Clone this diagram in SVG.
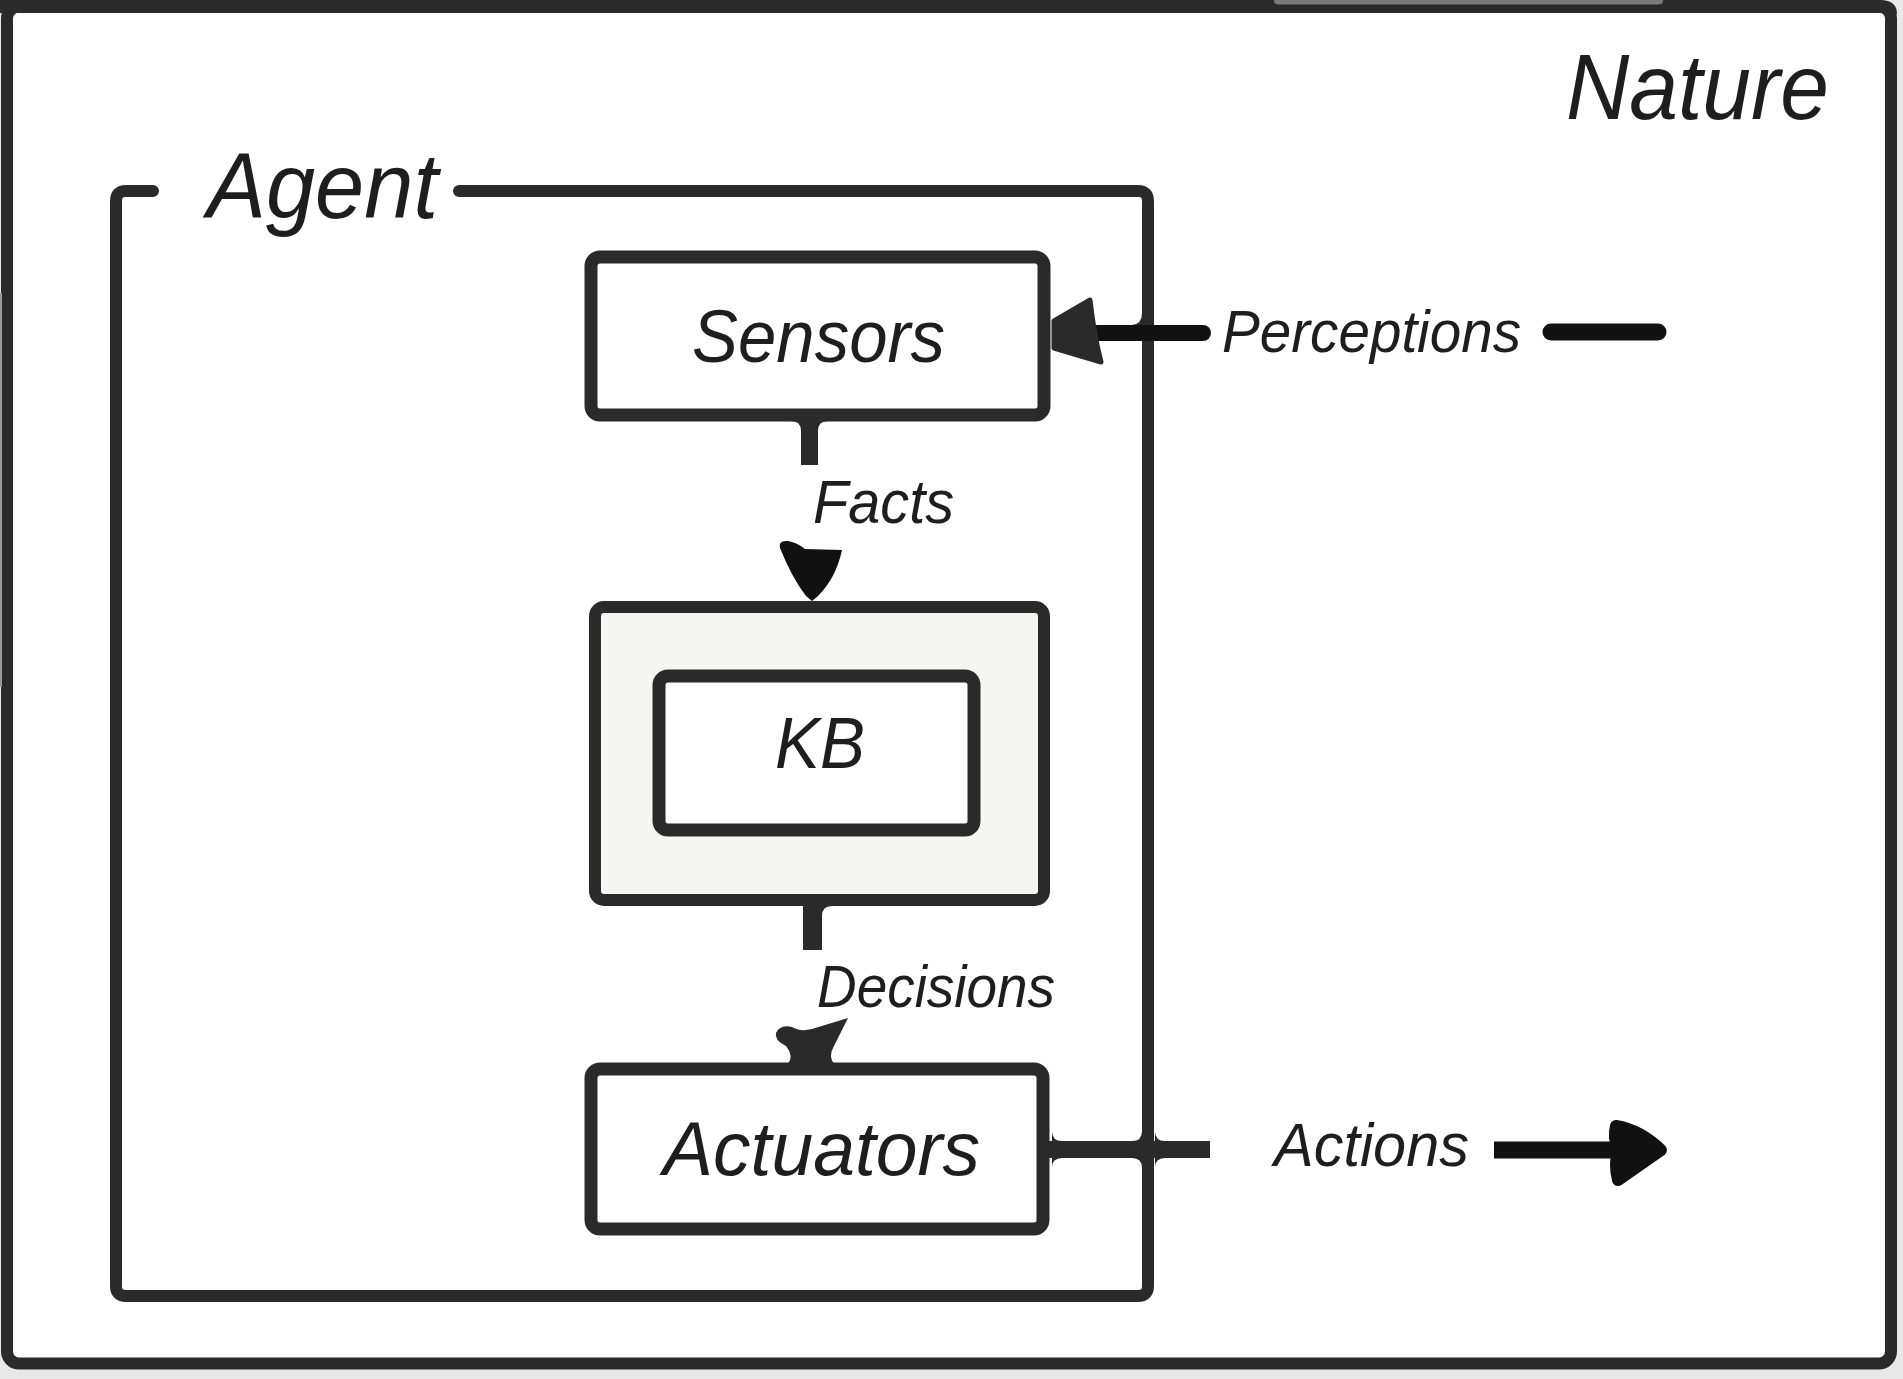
<svg xmlns="http://www.w3.org/2000/svg" width="1903" height="1379" viewBox="0 0 1903 1379">
  <style>
    .frame { fill: none; stroke: #2a2a2a; stroke-width: 12; stroke-linejoin: round; }
    .box { fill: #ffffff; stroke: #2a2a2a; stroke-width: 13; stroke-linejoin: round; }
    .kbouter { fill: #f5f5f3; stroke: #2a2a2a; stroke-width: 12; stroke-linejoin: round; }
    .lbl { font-family: "Liberation Sans", "DejaVu Sans", sans-serif; font-style: italic; fill: #1e1e1e; }
    .fil { fill: #2a2a2a; }
    .blk { fill: #111111; }
  </style>
  <rect x="0" y="0" width="1903" height="1379" fill="#e8e8e8"/>

  <g id="nature">
    <rect x="7" y="6.5" width="1884" height="1357" rx="12" fill="#ffffff" stroke="#2a2a2a" stroke-width="12"/>
    <path d="M0 0 L1880 0 Q1897 0 1897 14 L1885 14 Q1885 13 1880 13 L0 13 Z" fill="#2a2a2a"/>
    <path d="M1274 0 L1663 0 L1663 1 Q1663 4.5 1658 4.5 L1279 4.5 Q1274 4.5 1274 1 Z" fill="#7a7a7a"/>
    <rect x="0" y="293" width="2" height="394" fill="#9a9a9a"/>
    <text class="lbl" x="1566" y="119" font-size="92" textLength="263" lengthAdjust="spacingAndGlyphs">Nature</text>
  </g>

  <g id="agent">
    <path class="frame" stroke-linecap="round" d="M153 191 L126 191 Q116 191 116 201 L116 1286 Q116 1296 126 1296 L1138 1296 Q1148 1296 1148 1286 L1148 201 Q1148 191 1138 191 L459 191"/>
    <text class="lbl" x="207" y="218" font-size="92" textLength="231" lengthAdjust="spacingAndGlyphs">Agent</text>
  </g>

  <g id="sensors">
    <rect class="box" x="591" y="257" width="453" height="158" rx="9"/>
    <text class="lbl" x="692" y="362" font-size="74" textLength="253" lengthAdjust="spacingAndGlyphs">Sensors</text>
  </g>

  <g id="kb-container">
    <rect class="kbouter" x="595" y="607" width="449" height="293" rx="9"/>
  </g>

  <g id="kb">
    <rect class="box" x="659" y="676" width="315" height="154" rx="9"/>
    <text class="lbl" x="775" y="768" font-size="73" textLength="90" lengthAdjust="spacingAndGlyphs">KB</text>
  </g>

  <g id="actuators">
    <rect class="box" x="591" y="1069" width="452" height="160" rx="9"/>
    <text class="lbl" x="663" y="1175" font-size="76" textLength="317" lengthAdjust="spacingAndGlyphs">Actuators</text>
  </g>

  <g id="connectors">
    <!-- Facts: Sensors -> KB -->
    <rect class="fil" x="801" y="420" width="17" height="45"/>
    <path class="fil" d="M801 431 Q801 421 791 421 L801 421 Z"/>
    <path class="fil" d="M818 431 Q818 421 828 421 L818 421 Z"/>
    <path class="blk" d="M780 548 Q778 540 788 541 Q796 542 805 549 L842 550 Q836 578 818 596 L812 601 L806 596 Q792 578 780 548 Z"/>
    <text class="lbl" x="813" y="523" font-size="62" textLength="141" lengthAdjust="spacingAndGlyphs">Facts</text>

    <!-- Decisions: KB -> Actuators -->
    <rect class="fil" x="803" y="905" width="19" height="45"/>
    <path class="fil" d="M822 916 Q822 906 832 906 L822 906 Z"/>
    <path class="fil" d="M776 1033 Q780 1024 792 1027 Q800 1032 812 1029 L848 1018 L834 1046 Q828 1056 834 1064 L788 1064 Q794 1056 786 1046 Q774 1040 776 1033 Z"/>
    <text class="lbl" x="817" y="1007" font-size="60" textLength="238" lengthAdjust="spacingAndGlyphs">Decisions</text>

    <!-- Perceptions: Nature -> Sensors -->
    <path class="fil" d="M1142 313 Q1142 324 1132 325 L1142 325 Z"/>
    <line x1="1092" y1="333" x2="1203" y2="333" stroke="#111111" stroke-width="16" stroke-linecap="round"/>
    <path d="M1551 332 L1658 332" stroke="#111111" stroke-width="17" stroke-linecap="round"/>
    <path class="fil" stroke="#2a2a2a" stroke-width="5" stroke-linejoin="round" d="M1090 300 L1054 321 L1054 348 L1101 362 Q1094 335 1090 300 Z"/>
    <text class="lbl" x="1222" y="352" font-size="60" textLength="299" lengthAdjust="spacingAndGlyphs">Perceptions</text>

    <!-- Actions: Actuators -> Nature -->
    <rect class="fil" x="1048" y="1141" width="162" height="17"/>
    <path class="fil" d="M1052 1131 Q1052 1141 1062 1141 L1052 1141 Z"/>
    <path class="fil" d="M1052 1168 Q1052 1158 1062 1158 L1052 1158 Z"/>
    <path class="fil" d="M1142 1131 Q1142 1141 1132 1141 L1142 1141 Z"/>
    <path class="fil" d="M1142 1168 Q1142 1158 1132 1158 L1142 1158 Z"/>
    <path class="fil" d="M1155 1131 Q1155 1141 1165 1141 L1155 1141 Z"/>
    <path class="fil" d="M1155 1168 Q1155 1158 1165 1158 L1155 1158 Z"/>
    <text class="lbl" x="1274" y="1166" font-size="61" textLength="195" lengthAdjust="spacingAndGlyphs">Actions</text>
    <line x1="1494" y1="1150" x2="1615" y2="1150" stroke="#111111" stroke-width="17"/>
    <path class="blk" stroke="#111111" stroke-width="12" stroke-linejoin="round" d="M1616 1126 Q1640 1130 1661 1150 L1618 1180 Q1614 1165 1618 1150 Q1613 1138 1616 1126 Z"/>
  </g>
</svg>
